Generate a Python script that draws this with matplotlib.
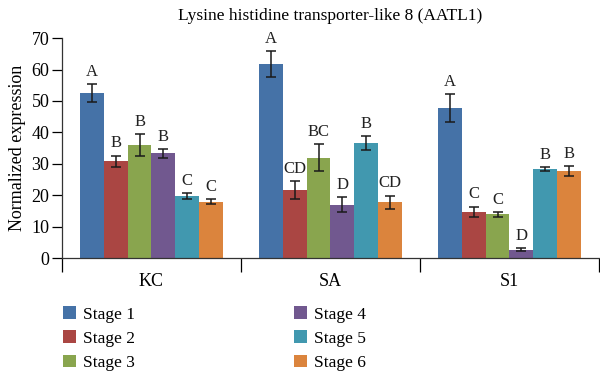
import matplotlib
matplotlib.use("Agg")
from matplotlib import pyplot as plt
import numpy as np

plt.rcParams['font.family'] = ['Liberation Serif', 'DejaVu Serif']

groups = ["KC", "SA", "S1"]
stages = ["Stage 1", "Stage 2", "Stage 3", "Stage 4", "Stage 5", "Stage 6"]
colors = ["#4572A7", "#AA4643", "#89A54E", "#71588F", "#4198AF", "#DB843D"]

# rows = stages, columns = KC, SA, S1
values = [
    [52.5, 61.7, 47.8],
    [30.8, 21.6, 14.8],
    [36.0, 32.0, 13.9],
    [33.4, 17.0, 2.7],
    [19.8, 36.6, 28.3],
    [17.9, 17.8, 27.7],
]
errors = [
    [2.8, 4.2, 4.4],
    [1.8, 2.8, 1.6],
    [3.4, 4.4, 0.7],
    [1.4, 2.4, 0.6],
    [1.0, 2.1, 0.6],
    [0.8, 2.1, 1.5],
]
letters = [
    ["A", "A", "A"],
    ["B", "CD", "C"],
    ["B", "BC", "C"],
    ["B", "D", "D"],
    ["C", "B", "B"],
    ["C", "CD", "B"],
]

fig = plt.figure(figsize=(6, 3.74), dpi=100)
ax = fig.add_axes([0.1033, 0.31, 0.895, 0.588])

x = np.arange(len(groups))
w = 0.8 / len(stages)
for i, st in enumerate(stages):
    pos = x - 0.4 + w * (i + 0.5)
    ax.bar(pos, values[i], w, color=colors[i], label=st, edgecolor='none')
    ax.errorbar(pos, values[i], yerr=errors[i], fmt='none', ecolor='#1a1a1a',
                elinewidth=1.1, capsize=3.5, capthick=1.1)
    for j in range(len(groups)):
        ax.annotate(letters[i][j], (pos[j], values[i][j] + errors[i][j]),
                    xytext=(0, 3), textcoords='offset points',
                    ha='center', va='bottom', fontsize=12, color='#222222')

ax.set_xlim(-0.5, 2.5)
ax.set_ylim(0, 70)
ax.set_yticks(range(0, 71, 10))
ax.set_xticks(x)
ax.set_xticklabels(groups)
ax.set_xticks([-0.5, 0.5, 1.5, 2.5], minor=True)
ax.tick_params(axis='x', which='major', length=0, labelsize=13, pad=11)
ax.tick_params(axis='x', which='minor', length=10, width=0.9, direction='out')
ax.tick_params(axis='y', labelsize=13, length=7, width=0.9, pad=2)
for s in ['top', 'right']:
    ax.spines[s].set_visible(False)
for s in ['left', 'bottom']:
    ax.spines[s].set_linewidth(0.9)
    ax.spines[s].set_color('#333333')

ax.set_ylabel("Normalized expression", fontsize=13, labelpad=4)
ax.set_title("Lysine histidine transporter-like 8 (AATL1)", fontsize=12.5, pad=13)

fig.legend(loc='upper left', bbox_to_anchor=(0.093, 0.2), ncol=2, frameon=False,
           fontsize=12.5, handlelength=0.75, handleheight=0.75, handletextpad=0.4,
           columnspacing=9.2, labelspacing=0.45, borderaxespad=0)

fig.savefig("out.png", dpi=100)
